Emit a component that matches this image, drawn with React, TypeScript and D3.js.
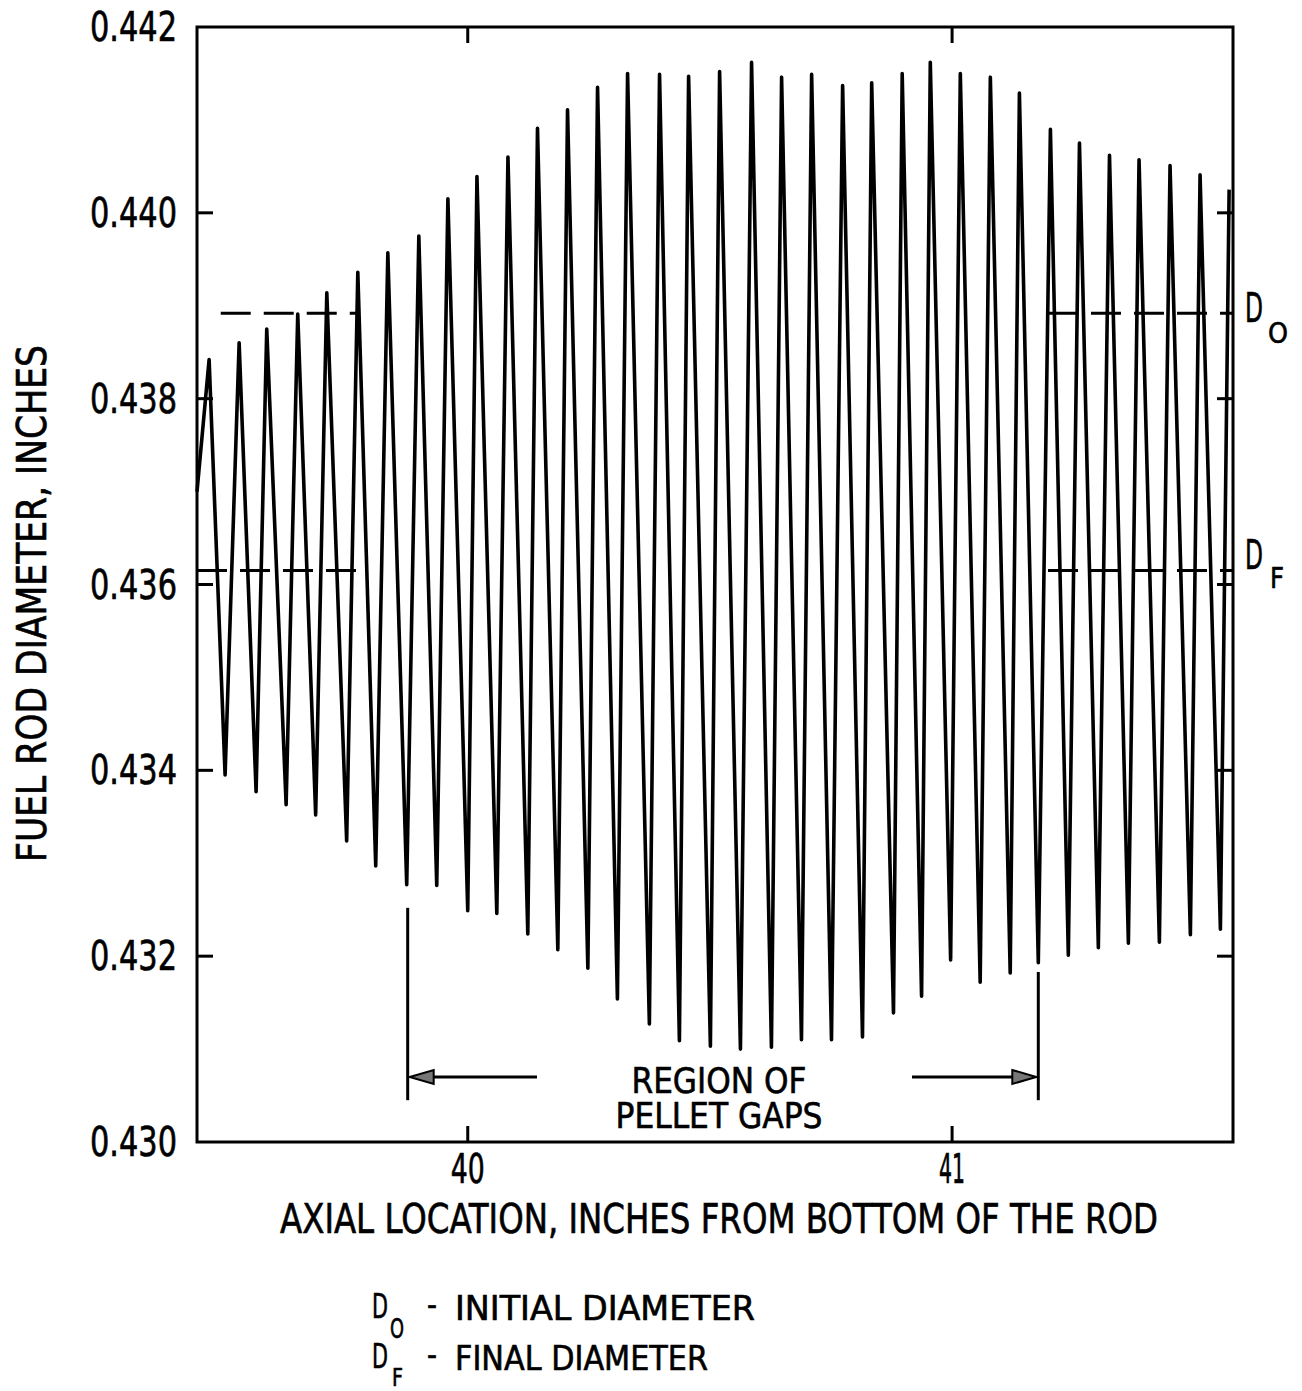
import React from "react";
import * as d3 from "d3";

// Axial positions (inches from bottom of rod) and diameters (inches) of the trace crests
const peakX = [
  39.466, 39.528, 39.585, 39.649, 39.709, 39.773, 39.835, 39.899, 39.959, 40.019,
  40.083, 40.144, 40.206, 40.268, 40.330, 40.396, 40.456, 40.520, 40.586, 40.648,
  40.710, 40.774, 40.834, 40.897, 40.955, 41.017, 41.079, 41.139, 41.203, 41.263,
  41.325, 41.386, 41.450, 41.512, 41.572,
];
const peakD = [
  0.43842, 0.43860, 0.43875, 0.43891, 0.43914, 0.43936, 0.43957, 0.43975, 0.44015, 0.44039,
  0.44060, 0.44091, 0.44111, 0.44135, 0.44150, 0.44149, 0.44147, 0.44152, 0.44162, 0.44146,
  0.44149, 0.44137, 0.44140, 0.44150, 0.44162, 0.44150, 0.44146, 0.44129, 0.44090, 0.44075,
  0.44062, 0.44057, 0.44051, 0.44041, 0.44025,
];
// Trace troughs (pellet gap locations)
const troughX = [
  39.499, 39.563, 39.625, 39.686, 39.750, 39.810, 39.874, 39.936, 40.000, 40.060,
  40.124, 40.186, 40.248, 40.309, 40.375, 40.437, 40.501, 40.563, 40.627, 40.689,
  40.751, 40.815, 40.879, 40.937, 40.997, 41.058, 41.120, 41.178, 41.240, 41.302,
  41.364, 41.428, 41.492, 41.554,
];
const troughD = [
  0.43395, 0.43377, 0.43363, 0.43352, 0.43324, 0.43297, 0.43277, 0.43276, 0.43249, 0.43246,
  0.43224, 0.43207, 0.43187, 0.43154, 0.43127, 0.43109, 0.43103, 0.43100, 0.43102, 0.43110,
  0.43110, 0.43113, 0.43139, 0.43157, 0.43196, 0.43172, 0.43182, 0.43193, 0.43201, 0.43209,
  0.43214, 0.43215, 0.43223, 0.43229,
];
const traceStart = { x: 39.441, d: 0.437 };

const xDomain = [39.441, 41.58];
const yDomain = [0.43, 0.442];
const xTicks = [40, 41];
const yTicks = [0.430, 0.432, 0.434, 0.436, 0.438, 0.440, 0.442];
const yTickLabels = ["0.430", "0.432", "0.434", "0.436", "0.438", "0.440", "0.442"];

const initialDiameter = 0.43892; // D_O
const finalDiameter = 0.43615; // D_F
const refLeftSpan = [39.441, 39.777];
const refLeftSpanDO = [39.49, 39.777];
const refRightSpan = [41.198, 41.58];

const gapRegion = [39.876, 41.178];
const gapRegionBarTop = [0.43252, 0.43183];
const gapRegionBarBottom = 0.43045;
const gapRegionArrowD = 0.4307;

const FONT = "'DejaVu Sans Condensed', 'Liberation Sans Narrow', 'DejaVu Sans', sans-serif";

function Txt({ x, y, children, size = 40, len, anchor = "start", rotate = 0 }: any) {
  return (
    <text
      x={x}
      y={y}
      fontSize={size}
      fontFamily={FONT}
      textAnchor={anchor}
      textLength={len}
      lengthAdjust="spacingAndGlyphs"
      fill="#000"
      stroke="#000"
      strokeWidth={0.6}
      transform={rotate ? `rotate(${rotate} ${x} ${y})` : undefined}
    >
      {children}
    </text>
  );
}

export default function App() {
  const left = 197, right = 1233, top = 27, bottom = 1142;
  const x = d3.scaleLinear().domain(xDomain).range([left, right]);
  const y = d3.scaleLinear().domain(yDomain).range([bottom, top]);

  const pts: [number, number][] = [[traceStart.x, traceStart.d]];
  for (let i = 0; i < peakX.length; i++) {
    pts.push([peakX[i], peakD[i]]);
    if (i < troughX.length) pts.push([troughX[i], troughD[i]]);
  }
  const line = d3.line<[number, number]>().x((p) => x(p[0])).y((p) => y(p[1]));

  const tickLen = 16;
  const mid = (x(gapRegion[0]) + x(gapRegion[1])) / 2;
  const ay = y(gapRegionArrowD);
  const lx = x(gapRegion[0]);
  const rx = x(gapRegion[1]);

  return (
    <svg
      width={1302}
      height={1391}
      style={{ position: "absolute", left: 0, top: 0, background: "#fff" }}
    >
      <rect x={0} y={0} width={1302} height={1391} fill="#fff" />

      {/* trace */}
      <path d={line(pts) || ""} fill="none" stroke="#000" strokeWidth={3.6} strokeLinejoin="round" />

      {/* reference diameters */}
      {[
        { d: initialDiameter, span: refLeftSpanDO },
        { d: finalDiameter, span: refLeftSpan },
        { d: initialDiameter, span: refRightSpan },
        { d: finalDiameter, span: refRightSpan },
      ].map((r, i) => (
        <line
          key={i}
          x1={x(r.span[0])}
          x2={x(r.span[1])}
          y1={y(r.d)}
          y2={y(r.d)}
          stroke="#000"
          strokeWidth={3}
          strokeDasharray="30 13"
        />
      ))}

      {/* frame */}
      <rect x={left} y={top} width={right - left} height={bottom - top} fill="none" stroke="#000" strokeWidth={3} />

      {/* y ticks */}
      {yTicks.slice(1, -1).map((t) => (
        <g key={t}>
          <line x1={left} x2={left + tickLen} y1={y(t)} y2={y(t)} stroke="#000" strokeWidth={3} />
          <line x1={right} x2={right - tickLen} y1={y(t)} y2={y(t)} stroke="#000" strokeWidth={3} />
        </g>
      ))}
      {yTicks.map((t, i) => (
        <Txt key={t} x={177} y={y(t) + 14} anchor="end" len={87}>
          {yTickLabels[i]}
        </Txt>
      ))}

      {/* x ticks */}
      {xTicks.map((t) => (
        <g key={t}>
          <line x1={x(t)} x2={x(t)} y1={top} y2={top + tickLen} stroke="#000" strokeWidth={3} />
          <line x1={x(t)} x2={x(t)} y1={bottom} y2={bottom - tickLen} stroke="#000" strokeWidth={3} />
          <Txt x={x(t)} y={1183} anchor="middle" len={t === 40 ? 34 : 26}>
            {String(t)}
          </Txt>
        </g>
      ))}

      {/* axis titles */}
      <Txt x={(280 + 1158) / 2} y={1233} anchor="middle" len={878}>
        AXIAL LOCATION, INCHES FROM BOTTOM OF THE ROD
      </Txt>
      <Txt x={46} y={(345 + 862) / 2} anchor="middle" len={517} rotate={-90}>
        FUEL ROD DIAMETER, INCHES
      </Txt>

      {/* right-hand labels for reference diameters */}
      <Txt x={1245} y={y(initialDiameter) + 9} size={40} len={18}>D</Txt>
      <Txt x={1268} y={y(initialDiameter) + 30} size={29} len={20}>O</Txt>
      <Txt x={1245} y={y(finalDiameter) - 2} size={40} len={18}>D</Txt>
      <Txt x={1270} y={y(finalDiameter) + 17} size={29} len={14}>F</Txt>

      {/* pellet-gap region marker */}
      <line x1={lx} x2={lx} y1={y(gapRegionBarTop[0])} y2={y(gapRegionBarBottom)} stroke="#000" strokeWidth={3} />
      <line x1={rx} x2={rx} y1={y(gapRegionBarTop[1])} y2={y(gapRegionBarBottom)} stroke="#000" strokeWidth={3} />
      <line x1={lx + 24} x2={mid - 186} y1={ay} y2={ay} stroke="#000" strokeWidth={3} />
      <line x1={mid + 189} x2={rx - 24} y1={ay} y2={ay} stroke="#000" strokeWidth={3} />
      <polygon
        points={`${lx + 2},${ay} ${lx + 26},${ay - 7} ${lx + 26},${ay + 7}`}
        fill="#777"
        stroke="#000"
        strokeWidth={2}
      />
      <polygon
        points={`${rx - 2},${ay} ${rx - 26},${ay - 7} ${rx - 26},${ay + 7}`}
        fill="#777"
        stroke="#000"
        strokeWidth={2}
      />
      <Txt x={mid - 4} y={1093} anchor="middle" size={36} len={175}>REGION OF</Txt>
      <Txt x={mid - 4} y={1128} anchor="middle" size={36} len={207}>PELLET GAPS</Txt>

      {/* legend */}
      <Txt x={372} y={1318} size={33} len={16}>D</Txt>
      <Txt x={390} y={1338} size={27} len={14}>O</Txt>
      <Txt x={427} y={1316} size={33} len={10}>-</Txt>
      <Txt x={455} y={1320} size={34} len={300}>INITIAL DIAMETER</Txt>
      <Txt x={372} y={1368} size={33} len={16}>D</Txt>
      <Txt x={392} y={1386} size={25} len={11}>F</Txt>
      <Txt x={427} y={1366} size={33} len={10}>-</Txt>
      <Txt x={455} y={1370} size={34} len={253}>FINAL DIAMETER</Txt>
    </svg>
  );
}
